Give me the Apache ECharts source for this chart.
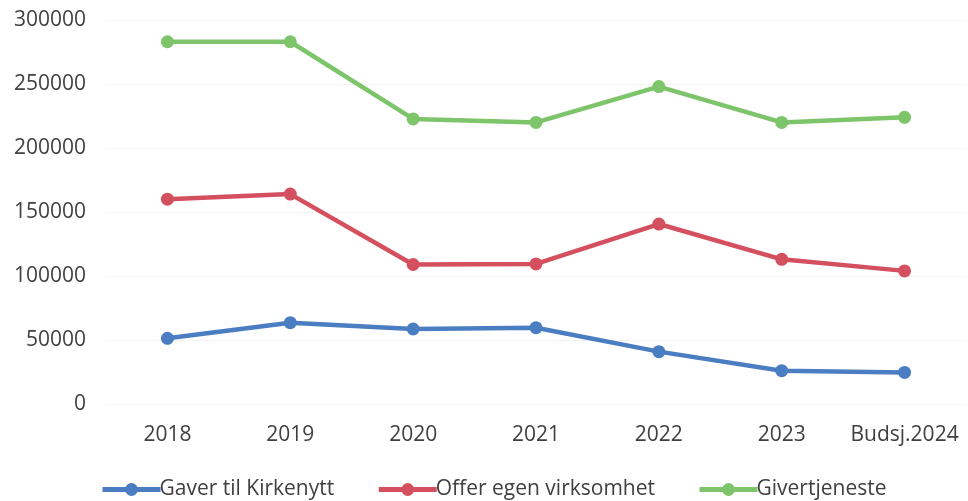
<!DOCTYPE html>
<html><head><meta charset="utf-8">
<script src="https://cdn.jsdelivr.net/npm/echarts@6/dist/echarts.min.js"></script>
<style>html,body{margin:0;padding:0;background:#fff}#c{width:968px;height:501px}</style>
</head><body><div id="c"></div>
<script>
const categories = ['2018','2019','2020','2021','2022','2023','Budsj.2024'];
const gaverTilKirkenytt = [51300, 63500, 58600, 59600, 40900, 26000, 24700];
const offerEgenVirksomhet = [160000, 164000, 109000, 109400, 140600, 113000, 104000];
const givertjeneste = [283000, 283000, 222700, 220000, 248000, 220000, 224000];
const seriesNames = ['Gaver til Kirkenytt', 'Offer egen virksomhet', 'Givertjeneste'];
const colors = ['#4a7dc1', '#d4505f', '#7dc46b'];

const chart = echarts.init(document.getElementById('c'));
const font = '"Open Sans", sans-serif';
function mk(name, data, color) {
  return {
    name, type: 'line', data,
    symbol: 'circle', symbolSize: 13,
    lineStyle: { width: 4.5, color },
    itemStyle: { color },
    z: 3
  };
}
chart.setOption({
  animation: false,
  grid: { left: 106, right: 2, top: 20, bottom: 97 },
  xAxis: {
    type: 'category', data: categories, boundaryGap: true,
    axisLine: { show: false }, axisTick: { show: false },
    axisLabel: { color: '#404040', fontFamily: font, fontSize: 21, margin: 21, interval: 0 }
  },
  yAxis: {
    type: 'value', min: 0, max: 300000, interval: 50000,
    axisLine: { show: false }, axisTick: { show: false },
    splitLine: { lineStyle: { color: '#f3f3f3', width: 1 } },
    axisLabel: { color: '#404040', fontFamily: font, fontSize: 21, margin: 20, formatter: v => String(v) }
  },
  legend: {
    top: 479, left: 100, itemGap: 42, itemWidth: 58, itemHeight: 16,
    padding: 0,
    lineStyle: { width: 5 },
    textStyle: { color: '#404040', fontFamily: font, fontSize: 21, padding: [0,0,0,-6] },
    data: seriesNames
  },
  series: [
    mk(seriesNames[0], gaverTilKirkenytt, colors[0]),
    mk(seriesNames[1], offerEgenVirksomhet, colors[1]),
    mk(seriesNames[2], givertjeneste, colors[2])
  ]
});
</script></body></html>
